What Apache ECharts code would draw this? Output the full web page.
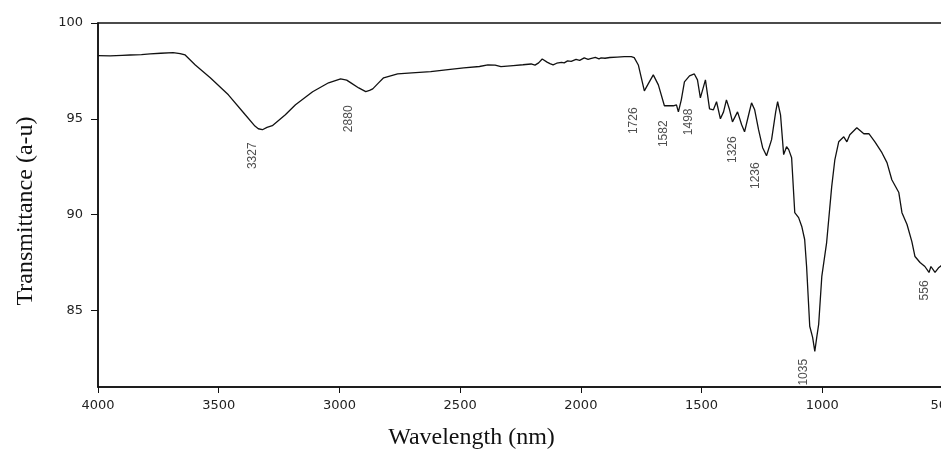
<!DOCTYPE html>
<html>
<head>
<meta charset="utf-8">
<script src="https://cdn.jsdelivr.net/npm/echarts@6/dist/echarts.min.js"></script>
<style>
  html, body { margin: 0; padding: 0; background: #fff; }
  #spectrum { width: 941px; height: 457px; }
</style>
</head>
<body>
<div id="spectrum"></div>
<script>
// FTIR spectrum
var wavenumbers = [
  4000, 3950, 3900, 3867, 3820, 3784, 3740, 3689, 3660, 3639, 3597, 3535, 3460, 3390, 3350, 3336,
  3319, 3300, 3278, 3224, 3182, 3111, 3045, 2995, 2970, 2954, 2920, 2891, 2875, 2862, 2840, 2817,
  2759, 2700, 2622, 2550, 2485, 2420, 2385, 2355, 2331, 2280, 2240, 2206, 2190, 2175, 2160, 2152,
  2140, 2128, 2115, 2100, 2095, 2080, 2069, 2055, 2040, 2020, 2005, 1986, 1970, 1960, 1940, 1925,
  1916, 1900, 1880, 1850, 1820, 1791, 1779, 1762, 1737,
  1721, 1700, 1679, 1654, 1617, 1604, 1596, 1584, 1571, 1550, 1530, 1517, 1505, 1484, 1467, 1451,
  1438, 1422, 1409, 1397, 1384, 1372, 1351, 1334, 1322, 1305, 1293, 1280, 1264, 1247, 1231, 1210,
  1193, 1185, 1173, 1160, 1148, 1139, 1127, 1114, 1098, 1085, 1073, 1065, 1052, 1040, 1031, 1023,
  1015, 1002, 982, 961, 948, 932, 911, 898, 886, 857, 828, 807, 782, 753, 732, 712,
  683, 670, 649, 629, 616, 595, 575, 558, 550, 533, 517, 500
];
var transmittance = [
  98.30, 98.28, 98.31, 98.33, 98.35, 98.39, 98.42, 98.45, 98.40, 98.33, 97.81, 97.14, 96.25, 95.21, 94.62, 94.48,
  94.43, 94.55, 94.64, 95.21, 95.73, 96.41, 96.88, 97.08, 97.02, 96.89, 96.61, 96.42, 96.48, 96.56, 96.85, 97.14,
  97.34, 97.40, 97.46, 97.57, 97.66, 97.73, 97.81, 97.80, 97.72, 97.78, 97.82, 97.86, 97.80, 97.92, 98.12, 98.05,
  97.96, 97.88, 97.81, 97.90, 97.86, 97.95, 97.92, 98.02, 98.00, 98.10, 98.05, 98.18, 98.10, 98.14, 98.20, 98.13,
  98.18, 98.16, 98.20, 98.22, 98.24, 98.24, 98.19, 97.81, 96.46,
  96.82, 97.29, 96.77, 95.68, 95.68, 95.73, 95.36, 95.99, 96.93, 97.24, 97.34, 97.03, 96.09, 97.03, 95.52, 95.47,
  95.89, 95.00, 95.36, 95.99, 95.47, 94.84, 95.36, 94.69, 94.32, 95.21, 95.83, 95.47, 94.43, 93.49, 93.07, 93.91,
  95.36, 95.89, 95.21, 93.13, 93.54, 93.39, 92.97, 90.10, 89.84, 89.38, 88.70, 87.29, 84.17, 83.59, 82.86, 83.59,
  84.27, 86.77, 88.54, 91.46, 92.86, 93.80, 94.06, 93.80, 94.17, 94.53, 94.22, 94.22, 93.80, 93.23, 92.71, 91.82,
  91.15, 90.10, 89.48, 88.59, 87.81, 87.50, 87.29, 86.98, 87.29, 86.98, 87.24, 87.40
];

// peak annotations: text and where it sits (data units)
var peakNames = ['3327', '2880', '1726', '1582', '1498', '1326', '1236', '1035', '556'];
var peakLabelX = [3361, 2962, 1783, 1658, 1554, 1372, 1276, 1077, 575];
var peakLabelY = [93.07, 95.0, 94.90, 94.22, 94.84, 93.39, 92.03, 81.77, 86.04];

var yTicks = [85, 90, 95, 100];

drawSpectrum();

function drawSpectrum() {
  var chart = echarts.init(document.getElementById('spectrum'));

  var curve = wavenumbers.map(function (w, i) {
    return [w, transmittance[i]];
  });
  var peaks = peakNames.map(function (n, i) {
    return { name: n, value: [peakLabelX[i], peakLabelY[i]] };
  });

  var option = {
    animation: false,
    backgroundColor: '#fff',
    grid: {
      left: 98,
      right: -2,
      top: 23,
      bottom: 70,
      outerBoundsMode: 'none',
      containLabel: false,
      show: true,
      borderColor: '#111',
      borderWidth: 1.5
    },
    xAxis: {
      type: 'value',
      inverse: true,
      min: 500,
      max: 4000,
      interval: 500,
      name: 'Wavelength (nm)',
      nameLocation: 'middle',
      nameGap: 39,
      nameTextStyle: {
        fontFamily: 'Liberation Serif',
        fontSize: 24,
        color: '#111',
        padding: [0, 98, 0, 0]
      },
      axisLine: { lineStyle: { color: '#111', width: 1.5 } },
      axisTick: { show: true, length: 6, lineStyle: { color: '#111' } },
      axisLabel: {
        margin: 12,
        fontFamily: 'DejaVu Sans',
        fontSize: 13,
        color: '#222',
        showMinLabel: true,
        showMaxLabel: true,
        formatter: function (v) { return String(v); }
      },
      splitLine: { show: false }
    },
    yAxis: {
      type: 'value',
      min: 81,
      max: 100,
      name: 'Transmittance (a-u)',
      nameLocation: 'middle',
      nameGap: 60,
      nameTextStyle: {
        fontFamily: 'Liberation Serif',
        fontSize: 24,
        color: '#111',
        padding: [0, 12, 0, 0]
      },
      axisLine: { show: true, lineStyle: { color: '#111', width: 1.5 } },
      axisTick: { show: true, length: 7, customValues: yTicks, lineStyle: { color: '#111' } },
      axisLabel: {
        margin: 15,
        customValues: yTicks,
        fontFamily: 'DejaVu Sans',
        fontSize: 13,
        color: '#222'
      },
      splitLine: { show: false }
    },
    series: [
      {
        type: 'line',
        data: curve,
        showSymbol: false,
        lineStyle: { color: '#111', width: 1.3 }
      },
      {
        type: 'scatter',
        data: peaks,
        symbolSize: 0,
        silent: true,
        label: {
          show: true,
          position: 'inside',
          rotate: 90,
          formatter: '{b}',
          fontFamily: 'Liberation Sans',
          fontSize: 12,
          color: '#222'
        }
      }
    ]
  };
  chart.setOption(option);
}
</script>
</body>
</html>
